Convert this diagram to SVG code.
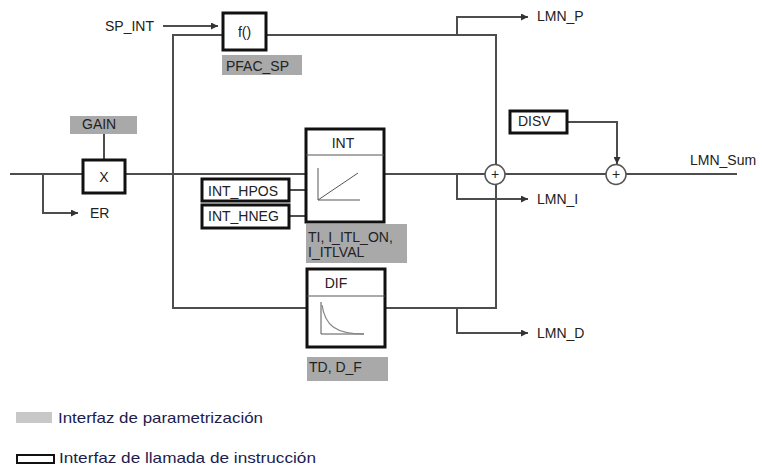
<svg xmlns="http://www.w3.org/2000/svg" width="762" height="468" viewBox="0 0 762 468">
<defs>
<marker id="arr" viewBox="0 0 10 10" refX="10" refY="5" markerWidth="7" markerHeight="7" markerUnits="userSpaceOnUse" orient="auto">
<path d="M0,0 L10,5 L0,10 z" fill="#333"/>
</marker>
</defs>
<style>
text{font-family:"Liberation Sans",Arial,sans-serif;font-size:14px;fill:#222}
.ln{fill:none;stroke:#4d4d4d;stroke-width:2}
.box{fill:#fff;stroke:#111;stroke-width:3}
.prm{fill:#a9a9a9}
.thin{fill:none;stroke:#555;stroke-width:1}
.curve{fill:none;stroke:#888;stroke-width:1.3}
.sum{fill:#fff;stroke:#555;stroke-width:1.5}
.leg{font-size:15px;fill:#1c1c4e}
</style>
<rect width="762" height="468" fill="#fff"/>
<g id="connectors">
<path class="ln" d="M10,174 H83"/>
<path class="ln" d="M43,174 V213 H78" marker-end="url(#arr)"/>
<path class="ln" d="M104,134 V160"/>
<path class="ln" d="M125,174 H306"/>
<path class="ln" d="M163,26 H218" marker-end="url(#arr)"/>
<path class="ln" d="M173,174 V35 H223"/>
<path class="ln" d="M266,35 H496 V308 H385"/>
<path class="ln" d="M173,174 V308 H307"/>
<path class="ln" d="M457,35 V17 H528" marker-end="url(#arr)"/>
<path class="ln" d="M289,190 H306"/>
<path class="ln" d="M289,216 H306"/>
<path class="ln" d="M384,174 H737"/>
<path class="ln" d="M457,174 V199 H528" marker-end="url(#arr)"/>
<path class="ln" d="M457,308 V333 H528" marker-end="url(#arr)"/>
<path class="ln" d="M567,122 H617 V164" marker-end="url(#arr)"/>
</g>
<g id="sp_int"><text x="105" y="31">SP_INT</text></g>
<g id="f"><rect class="box" x="223" y="13" width="43" height="37"/><text x="244.5" y="37" text-anchor="middle" font-size="13">f()</text></g>
<g id="pfac_sp"><rect class="prm" x="222" y="55" width="80" height="20"/><text x="226" y="71">PFAC_SP</text></g>
<g id="gain"><rect class="prm" x="70" y="116" width="67" height="18"/><text x="82" y="129">GAIN</text></g>
<g id="x"><rect class="box" x="83" y="160" width="42" height="33"/><text x="104" y="182" text-anchor="middle">X</text></g>
<g id="er"><text x="90" y="218">ER</text></g>
<g id="int_hpos"><rect class="box" x="202" y="179" width="87" height="22"/><text x="208" y="196">INT_HPOS</text></g>
<g id="int_hneg"><rect class="box" x="202" y="205" width="87" height="23"/><text x="208" y="221">INT_HNEG</text></g>
<g id="int"><rect class="box" x="306" y="129" width="78" height="93"/><path class="thin" d="M306,155 H384"/><text x="343" y="148" text-anchor="middle">INT</text>
<path class="thin" d="M318,168 V200 H360"/><path class="thin" d="M318,200 L358,173"/></g>
<g id="ti"><rect class="prm" x="306" y="224" width="101" height="39"/><text x="308" y="242">TI, I_ITL_ON,</text><text x="308" y="257">I_ITLVAL</text></g>
<g id="dif"><rect class="box" x="307" y="269" width="78" height="78"/><path class="thin" d="M307,296 H385"/><text x="336" y="288" text-anchor="middle">DIF</text>
<path class="thin" d="M321,302 V334 H364"/><path class="curve" d="M322,305 C325,325 335,334 364,334"/></g>
<g id="td"><rect class="prm" x="307" y="357" width="81" height="24"/><text x="309" y="372">TD, D_F</text></g>
<g id="sum1"><circle class="sum" cx="495" cy="174.5" r="10"/><text x="495" y="179" text-anchor="middle" font-size="12">+</text></g>
<g id="sum2"><circle class="sum" cx="616" cy="174.5" r="10"/><text x="616" y="179" text-anchor="middle" font-size="12">+</text></g>
<g id="disv"><rect class="box" x="510" y="111" width="57" height="22"/><text x="518" y="126">DISV</text></g>
<g id="lmn_p"><text x="537" y="21">LMN_P</text></g>
<g id="lmn_i"><text x="537" y="204">LMN_I</text></g>
<g id="lmn_d"><text x="537" y="338">LMN_D</text></g>
<g id="lmn_sum"><text x="690" y="165">LMN_Sum</text></g>
<g id="legend">
<rect x="16" y="412" width="36" height="11" fill="#c8c8c8"/>
<text class="leg" x="58" y="423" textLength="205" lengthAdjust="spacingAndGlyphs">Interfaz de parametrización</text>
<rect x="17" y="455" width="37" height="8" fill="#fff" stroke="#111" stroke-width="2"/>
<text class="leg" x="59" y="463" textLength="257" lengthAdjust="spacingAndGlyphs">Interfaz de llamada de instrucción</text>
</g>
</svg>
